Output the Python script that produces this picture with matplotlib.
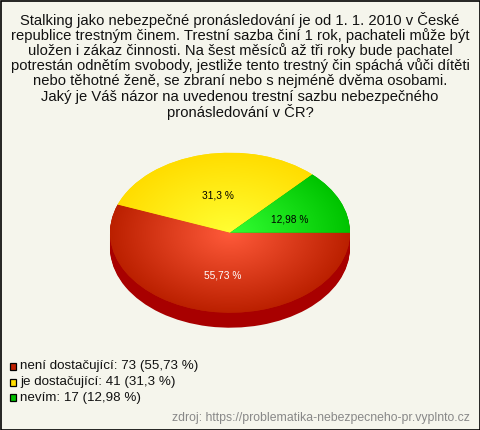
#!/usr/bin/env python3

import numpy as np
import matplotlib
matplotlib.use("Agg")
import matplotlib.pyplot as plt
from matplotlib.colors import LinearSegmentedColormap
from matplotlib.patches import Rectangle

# Data
categories = ["není dostačující", "je dostačující", "nevím"]
counts = [73, 41, 17]
percents = ["55,73", "31,3", "12,98"]

title_lines = [
    "Stalking jako nebezpečné pronásledování je od 1. 1. 2010 v České",
    "republice trestným činem. Trestní sazba činí 1 rok, pachateli může být",
    "uložen i zákaz činnosti. Na šest měsíců až tři roky bude pachatel",
    "potrestán odnětím svobody, jestliže tento trestný čin spáchá vůči dítěti",
    "nebo těhotné ženě, se zbraní nebo s nejméně dvěma osobami.",
    "Jaký je Váš názor na uvedenou trestní sazbu nebezpečného",
    "pronásledování v ČR?",
]
source_text = "zdroj: https://problematika-nebezpecneho-pr.vyplnto.cz"

# Styles
BG = "#f5f5ec"
SIDE = "#a80000"
center_colors = ["#ff5a3a", "#ffff33", "#33ff33"]
edge_colors = ["#bb2000", "#ffdd00", "#00c400"]
legend_colors = ["#c02000", "#ffdd00", "#00c000"]
label_colors = ["white", "black", "black"]
label_px = [(222.5, 275.5), (218, 195.5), (290, 219.5)]

W, H = 480, 430
CX, CY, RX, RY, DEPTH = 230, 232.7, 120, 80, 15

plt.rcParams["font.family"] = ["Liberation Sans", "DejaVu Sans"]


def px(size):
    return size * 72 / 100


fig = plt.figure(figsize=(W / 100, H / 100), dpi=100, facecolor=BG)

# pie axes: radius 1 is RX wide and RY high
ax = fig.add_axes([0, 0, 1, 1])


def set_limits():
    ax.set_aspect("auto")
    ax.set_xlim((0 - CX) / RX, (W - CX) / RX)
    ax.set_ylim((CY - H) / RY, CY / RY)
    ax.axis("off")


# side of the pie
for d in range(DEPTH, 0, -1):
    ax.pie(counts, colors=[SIDE] * 3, center=(0, -d / RY), radius=1,
           startangle=0, counterclock=False)

wedges, _ = ax.pie(counts, colors=edge_colors, startangle=0, counterclock=False)

# radial gradient in each slice
xx, yy = np.meshgrid(np.linspace(-1, 1, 300), np.linspace(-1, 1, 300))
rr = np.clip(np.sqrt(xx ** 2 + yy ** 2), 0, 1)
for wedge, c0, c1 in zip(wedges, center_colors, edge_colors):
    cmap = LinearSegmentedColormap.from_list("slice", [c0, c1])
    im = ax.imshow(rr, extent=(-1, 1, -1, 1), cmap=cmap, vmin=0, vmax=1,
                   aspect="auto", origin="lower", zorder=2)
    im.set_clip_path(wedge)

set_limits()

# everything else is placed in pixels, y going down
ov = fig.add_axes([0, 0, 1, 1])
ov.set_xlim(0, W)
ov.set_ylim(H, 0)
ov.axis("off")
ov.patch.set_alpha(0)

ov.add_patch(Rectangle((0.5, 0.5), W - 1, H - 1, fill=False, ec="black", lw=1.2))

title_y = [20, 35.5, 50.5, 66, 81.5, 96.5, 112]
for line, y in zip(title_lines, title_y):
    ov.text(W / 2, y, line, ha="center", va="center", fontsize=px(14.8), color="#111111")

for p, (x, y), c in zip(percents, label_px, label_colors):
    ov.text(x, y, f"{p} %", ha="center", va="center", fontsize=px(10.1), color=c)

legend_y = [366.5, 382.5, 398]
for name, n, p, c, y in zip(categories, counts, percents, legend_colors, legend_y):
    ov.add_patch(Rectangle((9.7, y - 3.8), 6.6, 6.8, fc=c, ec="black", lw=0.9))
    ov.text(20, y, f"{name}: {n} ({p} %)", ha="left", va="center",
            fontsize=px(13.4), color="#111111")

ov.text(470, 418, source_text, ha="right", va="center", fontsize=px(12.2), color="#888888")

fig.savefig("out.png", dpi=100, facecolor=BG)
